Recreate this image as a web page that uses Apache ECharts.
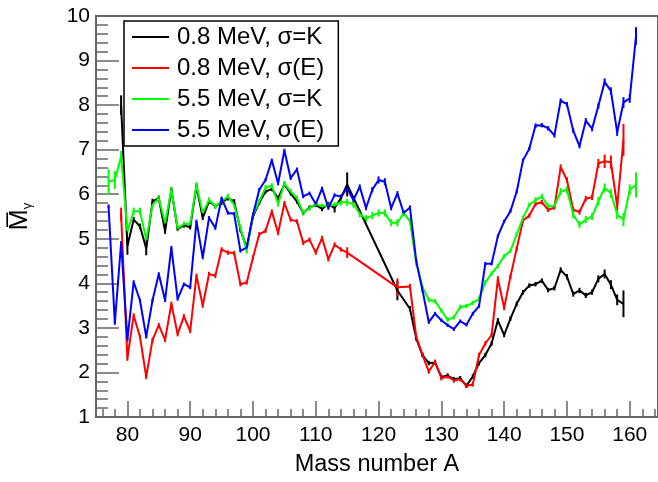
<!DOCTYPE html>
<html>
<head>
<meta charset="utf-8">
<script src="https://cdn.jsdelivr.net/npm/echarts@6/dist/echarts.min.js"></script>
<style>
  html, body { margin: 0; padding: 0; background: #fff; }
  #chart { width: 658px; height: 482px; }
</style>
</head>
<body>
<div id="chart"></div>
<script>
// mass numbers A = 77 ... 161
const massNumbers = [77, 78, 79, 80, 81, 82, 83, 84, 85, 86, 87, 88, 89, 90, 91, 92, 93, 94, 95, 96,
  97, 98, 99, 100, 101, 102, 103, 104, 105, 106, 107, 108, 109, 110, 111, 112, 113, 114, 115, 116,
  117, 118, 119, 120, 121, 122, 123, 124, 125, 126, 127, 128, 129, 130, 131, 132, 133, 134, 135, 136,
  137, 138, 139, 140, 141, 142, 143, 144, 145, 146, 147, 148, 149, 150, 151, 152, 153, 154, 155, 156,
  157, 158, 159, 160, 161];

// 0.8 MeV, sigma = K
const lowK = [null, null, 8.0, 4.84, 5.43, 5.28, 4.78, 5.84, 5.91, 5.17, 6.10, 5.22, 5.30, 5.26, 6.18, 5.47, 5.84, 5.73, 5.81, 5.91,
  5.84, 5.20, 4.80, 5.50, 5.81, 6.06, 6.12, 5.91, 6.22, 6.02, 5.84, 5.58, 5.70, 5.76, 5.67, 5.78, 5.69, 5.91, 6.22, null,
  null, null, null, null, null, null, 3.84, null, 3.43, 2.76, 2.39, 2.21, 2.22, 1.90, 1.93, 1.85, 1.87, 1.70, 1.91, 2.21,
  2.39, 2.65, 3.17, 2.84, 3.21, 3.54, 3.80, 3.95, 3.98, 4.06, 3.85, 3.89, 4.30, 4.15, 3.76, 3.84, 3.73, 3.80, 4.10, 4.21,
  3.97, 3.63, 3.54, null, null];
const lowKErr = [null, null, 0.22, 0.2, 0.06, 0.06, 0.15, 0.06, 0.06, 0.06, 0.06, 0.05, 0.05, 0.05, 0.06, 0.05, 0.05, 0.05, 0.05, 0.05,
  0.05, 0.05, 0.05, 0.05, 0.05, 0.05, 0.05, 0.05, 0.05, 0.05, 0.05, 0.05, 0.05, 0.05, 0.05, 0.05, 0.1, 0.06, 0.27, null,
  null, null, null, null, null, null, 0.22, null, 0.06, 0.05, 0.05, 0.05, 0.05, 0.05, 0.05, 0.05, 0.05, 0.05, 0.05, 0.05,
  0.05, 0.05, 0.05, 0.05, 0.05, 0.05, 0.05, 0.05, 0.05, 0.05, 0.05, 0.05, 0.06, 0.06, 0.06, 0.06, 0.06, 0.06, 0.08, 0.1,
  0.1, 0.12, 0.3, null, null];

// 0.8 MeV, sigma(E)
const lowE = [null, null, 5.55, 2.32, 3.28, 2.80, 1.90, 2.73, 3.06, 2.73, 3.54, 2.86, 3.26, 2.93, 4.17, 3.50, 4.21, 4.17, 4.76, 4.69,
  4.68, 3.98, 4.02, 4.58, 5.10, 5.18, 5.61, 5.13, 5.80, 5.43, 5.39, 4.91, 4.98, 4.69, 5.02, 4.54, 4.87, 4.76, 4.69, null,
  null, null, null, null, null, null, 3.91, null, 3.93, 2.80, 2.39, 2.02, 2.24, 1.87, 1.91, 1.82, 1.85, 1.70, 1.73, 2.39,
  2.65, 2.84, 4.10, 3.45, 4.15, 4.78, 5.41, 5.52, 5.78, 5.82, 5.65, 5.70, 6.61, 6.32, 5.65, 5.60, 5.90, 5.93, 6.69, 6.74,
  6.72, 5.73, 7.22, null, null];
const lowEErr = [null, null, 0.15, 0.06, 0.05, 0.05, 0.05, 0.05, 0.05, 0.05, 0.05, 0.05, 0.05, 0.05, 0.05, 0.05, 0.05, 0.05, 0.05, 0.05,
  0.05, 0.05, 0.05, 0.05, 0.05, 0.05, 0.05, 0.05, 0.05, 0.05, 0.05, 0.05, 0.05, 0.05, 0.05, 0.05, 0.05, 0.05, 0.12, null,
  null, null, null, null, null, null, 0.2, null, 0.06, 0.05, 0.05, 0.05, 0.05, 0.05, 0.05, 0.05, 0.05, 0.05, 0.05, 0.05,
  0.05, 0.05, 0.06, 0.05, 0.05, 0.05, 0.05, 0.05, 0.05, 0.05, 0.05, 0.05, 0.06, 0.06, 0.06, 0.06, 0.06, 0.06, 0.1, 0.15,
  0.15, 0.1, 0.36, null, null];

// 5.5 MeV, sigma = K
const highK = [6.28, 6.32, 6.85, 5.17, 5.62, 5.62, 4.98, 5.76, 5.91, 5.36, 6.10, 5.24, 5.33, 5.33, 6.21, 5.58, 5.87, 5.73, 5.84, 5.95,
  5.76, 5.24, 4.73, 5.54, 5.84, 6.15, 6.19, 5.78, 6.24, 6.06, 5.91, 5.58, 5.69, 5.78, 5.73, 5.75, 5.75, 5.82, 5.82, 5.78,
  5.56, 5.45, 5.52, 5.58, 5.58, 5.36, 5.36, 5.58, 5.39, 4.45, 3.91, 3.63, 3.60, 3.39, 3.18, 3.24, 3.47, 3.49, 3.56, 3.65,
  4.02, 4.22, 4.39, 4.61, 4.73, 5.10, 5.47, 5.76, 5.87, 5.95, 5.73, 5.73, 6.06, 6.10, 5.54, 5.32, 5.43, 5.50, 5.84, 6.14,
  6.02, 5.54, 5.43, 6.10, 6.21];
const highKErr = [0.28, 0.2, 0.12, 0.08, 0.08, 0.08, 0.08, 0.06, 0.06, 0.06, 0.06, 0.06, 0.06, 0.06, 0.06, 0.06, 0.06, 0.06, 0.06, 0.06,
  0.06, 0.06, 0.06, 0.06, 0.06, 0.06, 0.06, 0.06, 0.06, 0.06, 0.06, 0.06, 0.06, 0.06, 0.06, 0.06, 0.07, 0.07, 0.08, 0.08,
  0.08, 0.08, 0.08, 0.08, 0.08, 0.08, 0.08, 0.08, 0.08, 0.05, 0.05, 0.05, 0.05, 0.05, 0.05, 0.05, 0.05, 0.05, 0.05, 0.05,
  0.05, 0.05, 0.05, 0.05, 0.05, 0.05, 0.05, 0.05, 0.06, 0.06, 0.06, 0.06, 0.08, 0.08, 0.08, 0.08, 0.08, 0.08, 0.1, 0.1,
  0.1, 0.1, 0.15, 0.12, 0.28];

// 5.5 MeV, sigma(E)
const highE = [5.73, 3.11, 4.91, 2.73, 4.03, 3.62, 2.80, 3.62, 4.21, 3.62, 4.80, 3.65, 3.98, 3.91, 5.39, 4.58, 5.47, 5.24, 5.91, 5.58,
  5.56, 4.73, 4.80, 5.54, 6.10, 6.32, 6.76, 6.24, 6.98, 6.36, 6.56, 5.95, 6.02, 5.78, 6.13, 5.69, 5.98, 5.95, 6.13, 5.87,
  6.17, 5.69, 6.10, 6.32, 6.28, 5.69, 6.02, 5.58, 5.70, 4.50, 3.84, 3.13, 3.32, 3.17, 3.06, 2.97, 3.15, 3.07, 3.32, 3.49,
  4.44, 4.44, 5.06, 5.39, 5.62, 6.06, 6.76, 7.02, 7.54, 7.55, 7.48, 7.32, 8.10, 8.02, 7.43, 7.08, 7.65, 7.47, 7.98, 8.52,
  8.32, 7.39, 8.06, 8.15, 9.55];
const highEErr = [0.04, 0.04, 0.04, 0.04, 0.04, 0.04, 0.04, 0.04, 0.04, 0.04, 0.04, 0.04, 0.04, 0.04, 0.04, 0.04, 0.04, 0.04, 0.04, 0.04,
  0.04, 0.04, 0.04, 0.04, 0.04, 0.04, 0.04, 0.04, 0.04, 0.04, 0.04, 0.04, 0.04, 0.04, 0.04, 0.04, 0.04, 0.04, 0.05, 0.05,
  0.05, 0.05, 0.06, 0.08, 0.08, 0.05, 0.05, 0.05, 0.05, 0.04, 0.04, 0.04, 0.04, 0.04, 0.04, 0.04, 0.04, 0.04, 0.04, 0.04,
  0.04, 0.04, 0.04, 0.04, 0.04, 0.04, 0.04, 0.04, 0.05, 0.05, 0.05, 0.05, 0.05, 0.05, 0.05, 0.05, 0.06, 0.06, 0.06, 0.08,
  0.08, 0.08, 0.12, 0.1, 0.2];

const majorTicksX = [80, 90, 100, 110, 120, 130, 140, 150, 160];
const minorTicksX = [76, 78, 80, 82, 84, 86, 88, 90, 92, 94, 96, 98, 100, 102, 104, 106, 108, 110, 112, 114, 116, 118,
  120, 122, 124, 126, 128, 130, 132, 134, 136, 138, 140, 142, 144, 146, 148, 150, 152, 154, 156, 158, 160, 162, 164];

const seriesDefs = [
  { name: '0.8 MeV, σ=K', color: '#000000', values: lowK, errors: lowKErr },
  { name: '0.8 MeV, σ(E)', color: '#ff0000', values: lowE, errors: lowEErr },
  { name: '5.5 MeV, σ=K', color: '#00ff00', values: highK, errors: highKErr },
  { name: '5.5 MeV, σ(E)', color: '#0000ff', values: highE, errors: highEErr }
];

const FONT = 'Liberation Sans, Arial, Helvetica, sans-serif';
const AXIS_GRAY = '#666';

function lineData(values) {
  return massNumbers.map((a, i) => [a, values[i]]).filter(p => p[1] !== null);
}

function errData(values, errors) {
  return massNumbers.map((a, i) => [a, values[i], errors[i]]).filter(p => p[1] !== null);
}

const series = [];
seriesDefs.forEach(def => {
  series.push({
    name: def.name,
    type: 'line',
    data: lineData(def.values),
    symbol: 'none',
    lineStyle: { color: def.color, width: 2 },
    itemStyle: { color: def.color },
    animation: false,
    z: 3
  });
  series.push({
    name: def.name + ' err',
    type: 'custom',
    data: errData(def.values, def.errors),
    encode: { x: 0, y: 1 },
    animation: false,
    z: 3,
    renderItem: function (params, api) {
      const a = api.value(0), v = api.value(1), e = api.value(2);
      const p1 = api.coord([a, v - e]);
      const p2 = api.coord([a, v + e]);
      return {
        type: 'line',
        shape: { x1: p1[0], y1: p1[1], x2: p2[0], y2: p2[1] },
        style: { stroke: def.color, lineWidth: 2 }
      };
    }
  });
});

const option = {
  backgroundColor: '#fff',
  animation: false,
  grid: {
    left: 88, right: 0, top: 16, bottom: 61,
    show: true, borderColor: AXIS_GRAY, borderWidth: 2, backgroundColor: 'transparent'
  },
  legend: {
    orient: 'vertical',
    left: 124, top: 21,
    padding: [4, 14, 4, 8],
    itemWidth: 37, itemHeight: 2, itemGap: 7,
    icon: 'rect',
    data: seriesDefs.map(d => d.name),
    borderColor: '#000', borderWidth: 1.5,
    backgroundColor: '#fff',
    textStyle: { fontFamily: FONT, fontSize: 24, color: '#000', padding: [0, 0, 0, 3] },
    z: 10
  },
  xAxis: [
    {
      type: 'value', min: 75, max: 164.5,
      name: 'Mass number A', nameLocation: 'middle', nameGap: 36,
      nameTextStyle: { fontFamily: FONT, fontSize: 23.5, color: '#000' },
      axisLine: { show: true, lineStyle: { color: AXIS_GRAY, width: 2 } },
      axisTick: { show: true, inside: true, length: 16, customValues: majorTicksX, lineStyle: { color: AXIS_GRAY, width: 1.5 } },
      axisLabel: { show: true, customValues: majorTicksX, margin: 8, fontFamily: FONT, fontSize: 21, color: '#000' },
      splitLine: { show: false }
    },
    {
      type: 'value', min: 75, max: 164.5, position: 'bottom',
      axisLine: { show: false },
      axisTick: { show: true, inside: true, length: 8, customValues: minorTicksX, lineStyle: { color: AXIS_GRAY, width: 1.5 } },
      axisLabel: { show: false },
      splitLine: { show: false }
    }
  ],
  yAxis: {
    type: 'value', min: 1, max: 10, interval: 1,
    name: '{m|M\u0305}{g|γ}', nameLocation: 'middle', nameGap: 62, nameRotate: 90,
    nameTextStyle: {
      fontFamily: FONT, color: '#000',
      rich: {
        m: { fontFamily: FONT, fontSize: 25, color: '#000' },
        g: { fontFamily: FONT, fontSize: 13, color: '#000', padding: [14, 0, 0, 0] }
      }
    },
    axisLine: { show: true, lineStyle: { color: AXIS_GRAY, width: 2 } },
    axisTick: { show: true, inside: true, length: 23, lineStyle: { color: AXIS_GRAY, width: 1.5 } },
    minorTick: { show: true, splitNumber: 5, length: 12, lineStyle: { color: AXIS_GRAY, width: 1.5 } },
    axisLabel: { margin: 6, fontFamily: FONT, fontSize: 21, color: '#000' },
    splitLine: { show: false },
    minorSplitLine: { show: false }
  },
  series: series
};

const chart = echarts.init(document.getElementById('chart'), null, { renderer: 'canvas' });
chart.setOption(option);
</script>
</body>
</html>
